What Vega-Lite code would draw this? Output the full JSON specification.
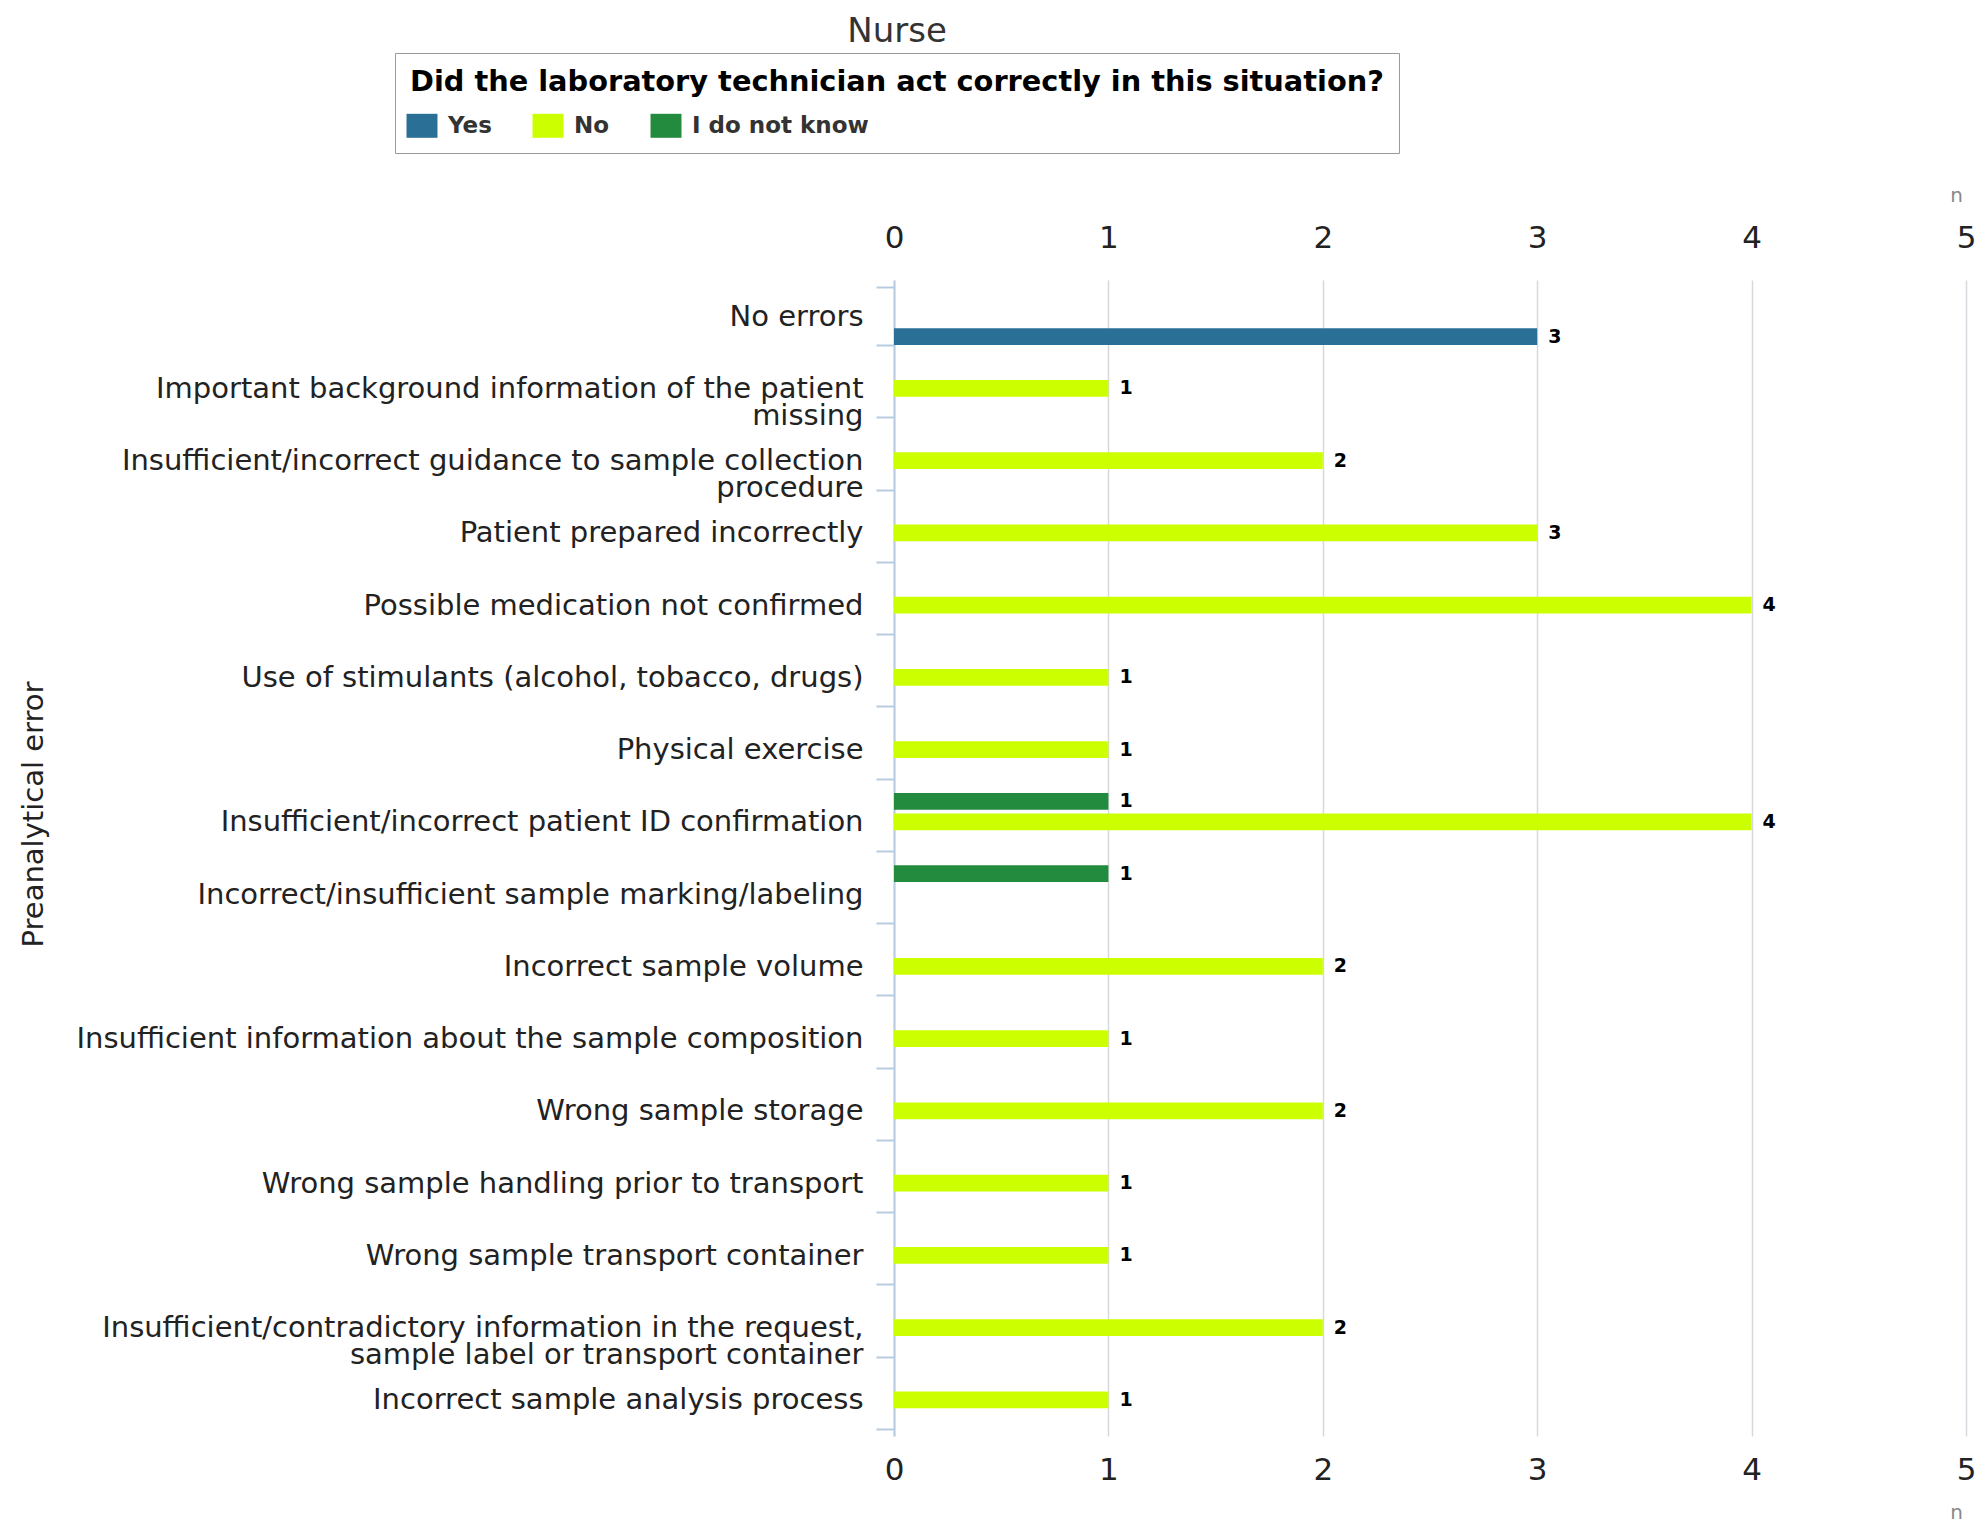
{
  "$schema": "https://vega.github.io/schema/vega-lite/v6.json",
  "autosize": {"type": "none"},
  "padding": {"left": 894, "top": 280, "right": 14, "bottom": 91},
  "width": 1072,
  "height": 1156,
  "background": "white",
  "config": {"view": {"stroke": null}, "font": "DejaVu Sans"},
  "title": {
    "text": "Nurse",
    "fontSize": 34,
    "fontWeight": "normal",
    "color": "#333333",
    "anchor": "middle",
    "frame": "group",
    "dx": -533
  },
  "data": {
    "values": [
      {"error": "No errors", "response": "Yes", "n": 3},
      {"error": "Important background information of the patient|missing", "response": "No", "n": 1},
      {"error": "Insufficient/incorrect guidance to sample collection|procedure", "response": "No", "n": 2},
      {"error": "Patient prepared incorrectly", "response": "No", "n": 3},
      {"error": "Possible medication not confirmed", "response": "No", "n": 4},
      {"error": "Use of stimulants (alcohol, tobacco, drugs)", "response": "No", "n": 1},
      {"error": "Physical exercise", "response": "No", "n": 1},
      {"error": "Insufficient/incorrect patient ID confirmation", "response": "I do not know", "n": 1},
      {"error": "Insufficient/incorrect patient ID confirmation", "response": "No", "n": 4},
      {"error": "Incorrect/insufficient sample marking/labeling", "response": "I do not know", "n": 1},
      {"error": "Incorrect sample volume", "response": "No", "n": 2},
      {"error": "Insufficient information about the sample composition", "response": "No", "n": 1},
      {"error": "Wrong sample storage", "response": "No", "n": 2},
      {"error": "Wrong sample handling prior to transport", "response": "No", "n": 1},
      {"error": "Wrong sample transport container", "response": "No", "n": 1},
      {"error": "Insufficient/contradictory information in the request,|sample label or transport container", "response": "No", "n": 2},
      {"error": "Incorrect sample analysis process", "response": "No", "n": 1}
    ]
  },
  "encoding": {
    "y": {
      "field": "error",
      "type": "nominal",
      "sort": null,
      "scale": {"paddingInner": 0.2, "paddingOuter": 0.1},
      "axis": {
        "title": "Preanalytical error",
        "titleFontSize": 29,
        "titleFontWeight": "normal",
        "titleColor": "#222222",
        "titleX": -861,
        "titleY": 534,
        "titleAngle": -90,
        "titleAlign": "center",
        "titleBaseline": "middle",
        "labelFontSize": 29,
        "labelColor": "#222222",
        "labelLineHeight": 27,
        "labelExpr": "split(datum.label, '|')",
        "labelLimit": 1000,
        "labelPadding": 13,
        "tickBand": "extent",
        "tickSize": 18,
        "tickWidth": 2,
        "tickColor": "#b8cce0",
        "domainColor": "#b8cce0",
        "domainWidth": 2,
        "grid": false,
        "encode": {
          "labels": {"dy": {"condition": {"test": "indexof(datum.value, '|') >= 0", "value": -10}, "value": 3}}
        }
      }
    },
    "yOffset": {
      "field": "response",
      "type": "nominal",
      "sort": ["I do not know", "No", "Yes"],
      "scale": {"domain": ["I do not know", "No", "Yes"], "paddingInner": 0.18, "paddingOuter": 0}
    }
  },
  "layer": [
    {
      "mark": {"type": "bar"},
      "encoding": {
        "x": {
          "field": "n",
          "type": "quantitative",
          "scale": {"domain": [0, 5], "nice": false},
          "axis": {
            "orient": "top",
            "values": [0, 1, 2, 3, 4, 5],
            "format": "d",
            "labelFontSize": 31,
            "labelColor": "#222222",
            "labelPadding": 26,
            "labelFlush": false,
            "ticks": false,
            "domain": false,
            "grid": true,
            "gridColor": "#d5d9de",
            "gridWidth": 1.5,
            "title": "n",
            "titleFontSize": 20,
            "titleFontWeight": "normal",
            "titleColor": "#888888",
            "titleX": 1062,
            "titleY": -79,
            "titleAlign": "center",
            "titleBaseline": "alphabetic",
            "encode": {
              "labels": {"dx": {"condition": {"test": "datum.value == 5", "value": -10}, "value": 0}}
            }
          }
        },
        "color": {
          "field": "response",
          "type": "nominal",
          "scale": {
            "domain": ["Yes", "No", "I do not know"],
            "range": ["#2a7096", "#ccff00", "#238b3e"]
          },
          "legend": {
            "orient": "none",
            "legendX": -499,
            "legendY": -227,
            "direction": "horizontal",
            "title": "Did the laboratory technician act correctly in this situation?",
            "titleFontSize": 28.8,
            "titleFontWeight": "bold",
            "titleColor": "#000000",
            "titlePadding": 17,
            "titleLimit": 2000,
            "labelFontSize": 23,
            "labelFontWeight": "bold",
            "labelColor": "#333333",
            "labelLimit": 500,
            "symbolType": "M-1.29,-1H1.29V1H-1.29Z",
            "symbolSize": 576,
            "symbolStrokeWidth": 0,
            "symbolOpacity": 1,
            "labelOffset": 14,
            "columnPadding": 40,
            "padding": 15,
            "strokeColor": "#9a9a9a",
            "fillColor": "white",
            "encode": {
              "legend": {"strokeWidth": {"value": 2}}
            }
          }
        }
      }
    },
    {
      "mark": {"type": "text", "align": "left", "baseline": "middle", "dx": 11, "fontSize": 19, "fontWeight": "bold", "color": "#000000"},
      "encoding": {
        "x": {
          "field": "n",
          "type": "quantitative",
          "axis": {
            "orient": "bottom",
            "values": [0, 1, 2, 3, 4, 5],
            "format": "d",
            "labelFontSize": 31,
            "labelColor": "#222222",
            "labelPadding": 19,
            "labelFlush": false,
            "ticks": false,
            "domain": false,
            "grid": false,
            "title": "n",
            "titleFontSize": 20,
            "titleFontWeight": "normal",
            "titleColor": "#888888",
            "titleX": 1062,
            "titleY": 82,
            "titleAlign": "center",
            "titleBaseline": "alphabetic",
            "encode": {
              "labels": {"dx": {"condition": {"test": "datum.value == 5", "value": -10}, "value": 0}}
            }
          }
        },
        "text": {"field": "n", "type": "quantitative"}
      }
    }
  ]
}
